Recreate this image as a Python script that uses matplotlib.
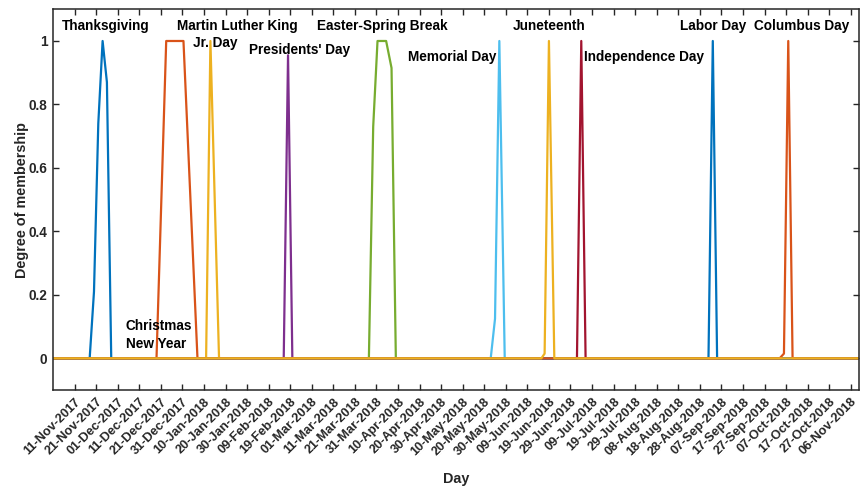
import matplotlib
matplotlib.use("Agg")
import matplotlib.pyplot as plt
import pandas as pd

plt.rcParams['font.family'] = ['Liberation Sans', 'DejaVu Sans']
plt.rcParams['font.weight'] = 'bold'

# ---- data ----
range_start = "2017-11-01"
range_end = "2018-11-10"

thanksgiving_dates = ["2017-11-18", "2017-11-20", "2017-11-22", "2017-11-24", "2017-11-26", "2017-11-28"]
thanksgiving_vals = [0, 0.21, 0.74, 1.0, 0.87, 0]

christmas_dates = ["2017-12-19", "2017-12-23 12:00", "2017-12-31 12:00", "2018-01-07"]
christmas_vals = [0, 1.0, 1.0, 0]

mlk_dates = ["2018-01-11", "2018-01-13", "2018-01-17"]
mlk_vals = [0, 1.0, 0]

presidents_dates = ["2018-02-16", "2018-02-18", "2018-02-20"]
presidents_vals = [0, 0.955, 0]

easter_dates = ["2018-03-27 12:00", "2018-03-29 12:00", "2018-03-31 12:00", "2018-04-04 12:00", "2018-04-07", "2018-04-09"]
easter_vals = [0, 0.73, 1.0, 1.0, 0.915, 0]

memorial_dates = ["2018-05-23", "2018-05-25", "2018-05-27", "2018-05-29 12:00"]
memorial_vals = [0, 0.125, 1.0, 0]

independence_dates = ["2018-07-02", "2018-07-04", "2018-07-06"]
independence_vals = [0, 1.0, 0]

labor_dates = ["2018-09-01", "2018-09-03", "2018-09-05"]
labor_vals = [0, 1.0, 0]

columbus_dates = ["2018-10-04", "2018-10-06", "2018-10-08", "2018-10-10"]
columbus_vals = [0, 0.015, 1.0, 0]

juneteenth_dates = ["2018-06-15 12:00", "2018-06-17", "2018-06-19", "2018-06-21 12:00"]
juneteenth_vals = [0, 0.015, 1.0, 0]

series = [
    (thanksgiving_dates, thanksgiving_vals, "#0072BD"),
    (christmas_dates, christmas_vals, "#D95319"),
    (mlk_dates, mlk_vals, "#EDB120"),
    (presidents_dates, presidents_vals, "#7E2F8E"),
    (easter_dates, easter_vals, "#77AC30"),
    (memorial_dates, memorial_vals, "#4DBEEE"),
    (independence_dates, independence_vals, "#A2142F"),
    (labor_dates, labor_vals, "#0072BD"),
    (columbus_dates, columbus_vals, "#D95319"),
    (juneteenth_dates, juneteenth_vals, "#EDB120"),
]

labels = [
    ("Thanksgiving", 0.0112, 0.956),
    ("Christmas\nNew Year", 0.0905, 0.145),
    ("Martin Luther King", 0.1538, 0.956),
    ("Jr. Day", 0.1736, 0.9115),
    ("Presidents' Day", 0.243, 0.893),
    ("Easter-Spring Break", 0.327, 0.956),
    ("Memorial Day", 0.440, 0.875),
    ("Juneteenth", 0.570, 0.956),
    ("Independence Day", 0.658, 0.875),
    ("Labor Day", 0.777, 0.956),
    ("Columbus Day", 0.869, 0.956),
]

tick_start = "2017-11-11"
tick_end = "2018-11-06"

# ---- plot ----
fig = plt.figure(figsize=(8.62, 4.87), dpi=100)
ax = fig.add_axes([0.0615, 0.199, 0.9355, 0.782])

t0 = pd.Timestamp(range_start)
t1 = pd.Timestamp(range_end)
for d, v, c in series:
    x = [t0] + [pd.Timestamp(s) for s in d] + [t1]
    y = [0] + list(v) + [0]
    ax.plot(x, y, color=c, lw=1.6)

ax.set_xlim(t0, t1)
ax.set_ylim(-0.1, 1.1)

ticks = pd.date_range(tick_start, tick_end, freq="10D")
ax.set_xticks(ticks)
ax.set_xticklabels([t.strftime("%d-%b-%Y") for t in ticks], rotation=45,
                   ha='right', rotation_mode='anchor', fontsize=9.2, fontweight='bold')
ax.set_yticks([0, 0.2, 0.4, 0.6, 0.8, 1.0])
ax.set_yticklabels(["0", "0.2", "0.4", "0.6", "0.8", "1"], fontsize=9.8, fontweight='bold')

ax.tick_params(direction='in', length=4.5, width=1.0, top=True, right=True,
               colors='#262626', labelcolor='#262626', pad=4)
for s in ax.spines.values():
    s.set_color('#262626')
    s.set_linewidth(1.1)

ax.set_xlabel("Day", fontsize=10.4, fontweight='bold', color='#262626', labelpad=10)
ax.set_ylabel("Degree of membership", fontsize=10.4, fontweight='bold', color='#262626', labelpad=0)

for txt, fx, fy in labels:
    ax.text(fx, fy, txt, transform=ax.transAxes, ha='left', va='center',
            fontsize=9.8, fontweight='bold', color='black', linespacing=1.35)

fig.savefig("out.png", dpi=100)
